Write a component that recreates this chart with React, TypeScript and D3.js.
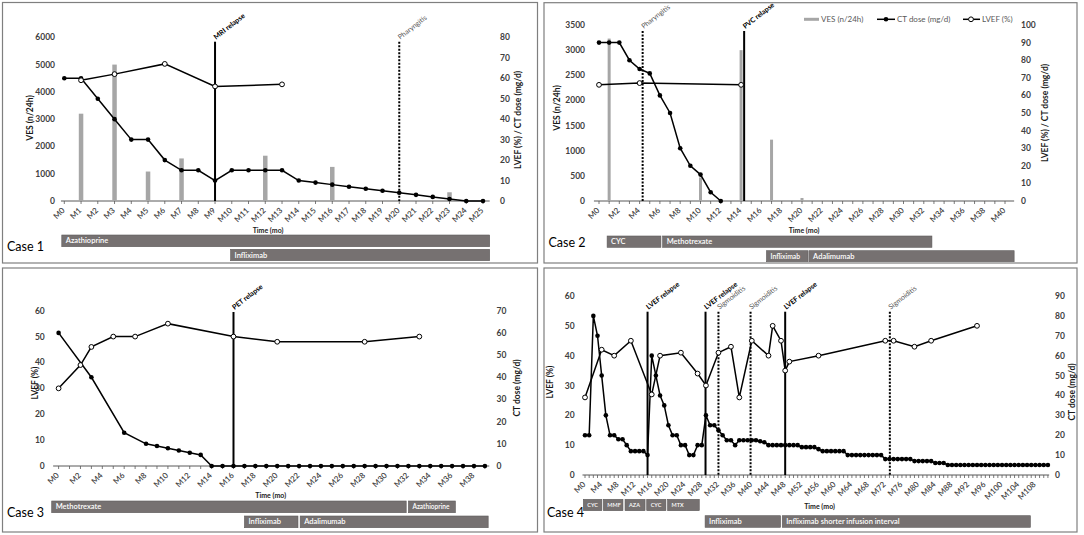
import * as d3 from 'd3';

const FONT = 'Lato, "Open Sans", sans-serif';

// ---------- Case 1 ----------
const case1Ticks = [0, 1, 2, 3, 4, 5, 6, 7, 8, 9, 10, 11, 12, 13, 14, 15, 16, 17, 18, 19, 20, 21, 22, 23, 24, 25];
const case1CtMonths = [0, 1, 2, 3, 4, 5, 6, 7, 8, 9, 10, 11, 12, 13, 14, 15, 16, 17, 18, 19, 20, 21, 22, 23, 24, 25];
const case1CtDose = [60, 60, 50, 40, 30, 30, 20, 15, 15, 10, 15, 15, 15, 15, 10, 9, 8, 7, 6, 5, 4, 3, 2, 1, 0, 0];
const case1LvefMonths = [1, 3, 6, 9, 13];
const case1Lvef = [59, 62, 67, 56, 57];
const case1VesMonths = [1, 3, 5, 7, 12, 16, 23];
const case1Ves = [3200, 5000, 1080, 1560, 1660, 1250, 320];
const case1Events = [
  { month: 9, label: 'MRI relapse', kind: 'relapse' },
  { month: 20, label: 'Pharyngitis', kind: 'infection' },
];
const case1Treatments = [
  { label: 'Azathioprine', start: -0.15, end: 25.4, row: 0 },
  { label: 'Infliximab', start: 9.93, end: 25.4, row: 1 },
];

// ---------- Case 2 ----------
const case2Ticks = [0, 2, 4, 6, 8, 10, 12, 14, 16, 18, 20, 22, 24, 26, 28, 30, 32, 34, 36, 38, 40];
const case2CtMonths = [0, 1, 2, 3, 4, 5, 6, 7, 8, 9, 10, 11, 12];
const case2CtDose = [90, 90, 90, 80, 75, 72.5, 60, 50, 30, 20, 15, 5, 0];
const case2LvefMonths = [0, 4, 14];
const case2Lvef = [66, 67, 66];
const case2VesMonths = [1, 10, 14, 17, 20];
const case2Ves = [3230, 470, 3000, 1220, 60];
const case2Events = [
  { month: 4.3, label: 'Pharyngitis', kind: 'infection' },
  { month: 14.3, label: 'PVC relapse', kind: 'relapse' },
];
const case2Treatments = [
  { label: 'CYC', start: 0.8, end: 6.1, row: 0 },
  { label: 'Methotrexate', start: 6.27, end: 32.8, row: 0 },
  { label: 'Infliximab', start: 16.5, end: 20.6, row: 1 },
  { label: 'Adalimumab', start: 20.7, end: 40.9, row: 1 },
];
const legendItems = ['VES (n/24h)', 'CT dose (mg/d)', 'LVEF (%)'];

// ---------- Case 3 ----------
const case3Ticks = [0, 2, 4, 6, 8, 10, 12, 14, 16, 18, 20, 22, 24, 26, 28, 30, 32, 34, 36, 38];
const case3CtMonths = [0, 3, 6, 8, 9, 10, 11, 12, 13, 14, 15, 16, 17, 18, 19, 20, 21, 22, 23, 24, 25, 26, 27, 28, 29, 30, 31, 32, 33, 34, 35, 36, 37, 38, 39];
const case3CtDose = [60, 40, 15, 10, 9, 8, 7, 6, 5, 0, 0, 0, 0, 0, 0, 0, 0, 0, 0, 0, 0, 0, 0, 0, 0, 0, 0, 0, 0, 0, 0, 0, 0, 0, 0];
const case3LvefMonths = [0, 2, 3, 5, 7, 10, 16, 20, 28, 33];
const case3Lvef = [30, 39, 46, 50, 50, 55, 50, 48, 48, 50];
const case3Events = [{ month: 16, label: 'PET relapse', kind: 'relapse' }];
const case3Treatments = [
  { label: 'Methotrexate', start: -0.63, end: 31.8, row: 0 },
  { label: 'Azathioprine', start: 32.0, end: 36.3, row: 0 },
  { label: 'Infliximab', start: 17.0, end: 21.9, row: 1 },
  { label: 'Adalimumab', start: 22.1, end: 39.3, row: 1 },
];

// ---------- Case 4 ----------
const case4Ticks = [0, 4, 8, 12, 16, 20, 24, 28, 32, 36, 40, 44, 48, 52, 56, 60, 64, 68, 72, 76, 80, 84, 88, 92, 96, 100, 104, 108];
// CT dose, one value per month from M0 to M111
const case4CtDose = [
  20, 20, 80, 70, 50, 30, 20, 20, 18, 18,
  15, 12, 12, 12, 12, 10, 60, 50, 40, 35,
  25, 20, 20, 15, 15, 10, 10, 15, 15, 30,
  25, 25, 22.5, 20, 17.5, 17.5, 15, 17.5, 17.5, 17.5,
  17.5, 17.5, 17, 16.5, 15, 15, 15, 15, 15, 15,
  15, 15, 14, 14, 14, 14, 13, 12, 12, 12,
  12, 12, 12, 10, 10, 10, 10, 10, 10, 10,
  10, 10, 8, 8, 8, 8, 8, 8, 8, 7,
  7, 7, 7, 7, 6, 6, 6, 5, 5, 5,
  5, 5, 5, 5, 5, 5, 5, 5, 5, 5,
  5, 5, 5, 5, 5, 5, 5, 5, 5, 5,
  5, 5,
];
const case4CtMonths = case4CtDose.map((_, i) => i);
const case4LvefMonths = [0, 4, 7, 11, 16, 18, 23, 27, 29, 32, 35, 37, 40, 44, 45, 47, 48, 49, 56, 72, 74, 79, 83, 94];
const case4Lvef = [26, 42, 40, 45, 27, 40, 41, 34, 30, 41, 43, 26, 45, 40, 50, 45, 35, 38, 40, 45, 45, 43, 45, 50];
const case4Events = [
  { month: 15, label: 'LVEF relapse', kind: 'relapse' },
  { month: 28.9, label: 'LVEF relapse', kind: 'relapse' },
  { month: 32, label: 'Sigmoiditis', kind: 'infection' },
  { month: 39.7, label: 'Sigmoiditis', kind: 'infection' },
  { month: 48, label: 'LVEF relapse', kind: 'relapse' },
  { month: 73.1, label: 'Sigmoiditis', kind: 'infection' },
];
const case4Treatments = [
  { label: 'CYC', start: -0.4, end: 4.05, row: 0 },
  { label: 'MMF', start: 4.4, end: 9.1, row: 0 },
  { label: 'AZA', start: 9.6, end: 14.4, row: 0 },
  { label: 'CYC', start: 14.8, end: 19.4, row: 0 },
  { label: 'MTX', start: 19.8, end: 27.4, row: 0 },
  { label: 'Infliximab', start: 28.8, end: 46.9, row: 1 },
  { label: 'Infliximab shorter infusion interval', start: 47.3, end: 106.8, row: 1 },
];

type Ev = { month: number; label: string; kind: string };
type Tx = { label: string; start: number; end: number; row: number };

interface PanelProps {
  box: [number, number, number, number];
  xDomain: [number, number];
  xRange: [number, number];
  axisExtent: [number, number];
  lastMonth: number;
  tickMonths: number[];
  yTop: number;
  yBottom: number;
  leftMax: number;
  leftCount: number;
  leftTitle: string;
  leftLabelX: number;
  leftTitleX: number;
  leftTitleY: number;
  rightMax: number;
  rightCount: number;
  rightTitle: string;
  rightLabelX: number;
  rightTitleX: number;
  rightTitleY: number;
  barMonths?: number[];
  barValues?: number[];
  barWidth?: number;
  ctMonths: number[];
  ctValues: number[];
  ctAxis: 'left' | 'right';
  lvefMonths: number[];
  lvefValues: number[];
  lvefAxis: 'left' | 'right';
  events: Ev[];
  eventTop: number;
  treatments: Tx[];
  rows: [number, number][];
  rowFont: number[];
  caseLabel: string;
  caseX: number;
  caseY: number;
  timeX: number;
  timeY: number;
  legend?: { x: number; y: number };
}

function Panel(p: PanelProps) {
  const x = d3.scaleLinear().domain(p.xDomain).range(p.xRange);
  const yL = d3.scaleLinear().domain([0, p.leftMax]).range([p.yBottom, p.yTop]);
  const yR = d3.scaleLinear().domain([0, p.rightMax]).range([p.yBottom, p.yTop]);
  const ctY = p.ctAxis === 'left' ? yL : yR;
  const lvY = p.lvefAxis === 'left' ? yL : yR;

  const ctPts = p.ctMonths.map((m, i) => [m, p.ctValues[i]] as [number, number]);
  const lvPts = p.lvefMonths.map((m, i) => [m, p.lvefValues[i]] as [number, number]);
  const ctLine = d3.line<[number, number]>().x(d => x(d[0])).y(d => ctY(d[1]));
  const lvLine = d3.line<[number, number]>().x(d => x(d[0])).y(d => lvY(d[1]));
  const monthTicks = d3.range(0, p.lastMonth + 1);

  const [bx0, by0, bx1, by1] = p.box;

  return (
    <g>
      <rect x={bx0} y={by0} width={bx1 - bx0} height={by1 - by0} fill="none" stroke="#7f7f7f" strokeWidth={1.2} />

      {/* x axis */}
      <line x1={x(p.axisExtent[0])} x2={x(p.axisExtent[1])} y1={p.yBottom} y2={p.yBottom} stroke="#595959" strokeWidth={1} />
      {monthTicks.map(m => (
        <line key={'t' + m} x1={x(m)} x2={x(m)} y1={p.yBottom} y2={p.yBottom + 3} stroke="#595959" strokeWidth={0.8} />
      ))}
      {p.tickMonths.map(m => (
        <g key={'l' + m} transform={`translate(${x(m) + 1},${p.yBottom + 10})`}>
          <text transform="rotate(-45)" textAnchor="end" fontSize={8} fontWeight={600} fill="#404040">{`M${m}`}</text>
        </g>
      ))}

      {/* y axes labels */}
      {yL.ticks(p.leftCount).map(v => (
        <text key={'yl' + v} x={p.leftLabelX} y={yL(v) + 3} textAnchor="end" fontSize={8.5} fontWeight={700} fill="#404040">{v}</text>
      ))}
      {yR.ticks(p.rightCount).map(v => (
        <text key={'yr' + v} x={p.rightLabelX} y={yR(v) + 3} textAnchor="start" fontSize={8.5} fontWeight={700} fill="#404040">{v}</text>
      ))}
      <text transform={`translate(${p.leftTitleX + 3},${p.leftTitleY}) rotate(-90)`} textAnchor="middle" fontSize={8.5} fontWeight={700} fill="#1a1a1a">{p.leftTitle}</text>
      <text transform={`translate(${p.rightTitleX + 3},${p.rightTitleY}) rotate(-90)`} textAnchor="middle" fontSize={8.5} fontWeight={700} fill="#1a1a1a">{p.rightTitle}</text>

      {/* VES bars */}
      {p.barMonths && p.barValues && p.barMonths.map((m, i) => (
        <rect key={'b' + i} x={x(m) - (p.barWidth ?? 4) / 2} y={yL(p.barValues![i])} width={p.barWidth ?? 4}
          height={p.yBottom - yL(p.barValues![i])} fill="#a6a6a6" />
      ))}

      {/* events */}
      {p.events.map((e, i) => (
        <g key={'e' + i}>
          <line x1={x(e.month)} x2={x(e.month)} y1={p.eventTop} y2={p.yBottom} stroke="#000"
            strokeWidth={2} strokeDasharray={e.kind === 'relapse' ? undefined : '2,1.5'} />
          <g transform={`translate(${x(e.month) + 1},${p.eventTop - 2})`}>
            <text transform="rotate(-38)" fontSize={7}
              fontWeight={e.kind === 'relapse' ? 700 : 400} fill={e.kind === 'relapse' ? '#000' : '#595959'}>{e.label}</text>
          </g>
        </g>
      ))}

      {/* series */}
      <path d={lvLine(lvPts) ?? ''} fill="none" stroke="#000" strokeWidth={1.5} />
      <path d={ctLine(ctPts) ?? ''} fill="none" stroke="#000" strokeWidth={1.5} />
      {ctPts.map((d, i) => (
        <circle key={'c' + i} cx={x(d[0])} cy={ctY(d[1])} r={2.3} fill="#000" />
      ))}
      {lvPts.map((d, i) => (
        <circle key={'v' + i} cx={x(d[0])} cy={lvY(d[1])} r={2.4} fill="#fff" stroke="#000" strokeWidth={1} />
      ))}

      {/* time title, case label */}
      <text x={p.timeX} y={p.timeY} textAnchor="middle" fontSize={7} fontWeight={700} fill="#1a1a1a">Time (mo)</text>
      <text x={p.caseX} y={p.caseY} fontSize={12.5} fill="#000">{p.caseLabel}</text>

      {/* treatments */}
      {p.treatments.map((t, i) => {
        const [r0, r1] = p.rows[t.row];
        const x0 = x(t.start);
        const w = x(t.end) - x0;
        const fs = Math.min(p.rowFont[t.row], (w - 6) / (t.label.length * 0.52));
        return (
          <g key={'tx' + i}>
            <rect x={x0} y={r0} width={w} height={r1 - r0} fill="#767171" stroke="#5e5a5a" strokeWidth={0.6} />
            <text x={x0 + 4} y={(r0 + r1) / 2 + fs * 0.35} fontSize={fs} fontWeight={600} fill="#fff">{t.label}</text>
          </g>
        );
      })}

      {/* legend */}
      {p.legend && (
        <g transform={`translate(${p.legend.x},${p.legend.y})`} fontSize={8} fill="#595959">
          <rect x={0} y={-1.5} width={15} height={3} fill="#a6a6a6" />
          <text x={17} y={2.8}>{legendItems[0]}</text>
          <line x1={73} x2={91} y1={0} y2={0} stroke="#000" strokeWidth={1.5} />
          <circle cx={82} cy={0} r={2.3} fill="#000" />
          <text x={93} y={2.8}>{legendItems[1]}</text>
          <line x1={159} x2={176} y1={0} y2={0} stroke="#000" strokeWidth={1.5} />
          <circle cx={167} cy={0} r={2.4} fill="#fff" stroke="#000" strokeWidth={1} />
          <text x={178} y={2.8}>{legendItems[2]}</text>
        </g>
      )}
    </g>
  );
}

export default function App() {
  return (
    <svg width={1084} height={535} fontFamily={FONT}
      style={{ position: 'absolute', left: 0, top: 0, background: '#fff' }}>
      <rect width={1084} height={535} fill="#fff" />
      <Panel
        box={[2.5, 2.5, 537.5, 263]} xDomain={[0, 25]} xRange={[64.3, 483]} axisExtent={[-0.2, 25.4]}
        lastMonth={25} tickMonths={case1Ticks} yTop={37.3} yBottom={201}
        leftMax={6000} leftCount={6} leftTitle="VES (n/24h)" leftLabelX={55} leftTitleX={30} leftTitleY={118}
        rightMax={80} rightCount={8} rightTitle="LVEF (%) / CT dose (mg/d)" rightLabelX={500} rightTitleX={518} rightTitleY={120}
        barMonths={case1VesMonths} barValues={case1Ves} barWidth={4.5}
        ctMonths={case1CtMonths} ctValues={case1CtDose} ctAxis="right"
        lvefMonths={case1LvefMonths} lvefValues={case1Lvef} lvefAxis="right"
        events={case1Events} eventTop={41.7}
        treatments={case1Treatments} rows={[[235, 246.7], [249.3, 260.7]]} rowFont={[7.5, 7.5]}
        caseLabel="Case 1" caseX={7} caseY={250.5} timeX={268} timeY={232.5}
      />
      <Panel
        box={[544, 2.7, 1077, 263]} xDomain={[0, 40]} xRange={[599, 1005]} axisExtent={[-0.5, 40.9]}
        lastMonth={40} tickMonths={case2Ticks} yTop={25} yBottom={201}
        leftMax={3500} leftCount={7} leftTitle="VES (n/24h)" leftLabelX={585} leftTitleX={557} leftTitleY={108}
        rightMax={100} rightCount={10} rightTitle="LVEF (%) / CT dose (mg/d)" rightLabelX={1021} rightTitleX={1045} rightTitleY={113}
        barMonths={case2VesMonths} barValues={case2Ves} barWidth={3}
        ctMonths={case2CtMonths} ctValues={case2CtDose} ctAxis="right"
        lvefMonths={case2LvefMonths} lvefValues={case2Lvef} lvefAxis="right"
        events={case2Events} eventTop={31}
        treatments={case2Treatments} rows={[[236, 247.3], [250.7, 261.7]]} rowFont={[7.5, 7.5]}
        caseLabel="Case 2" caseX={548.5} caseY={247} timeX={804} timeY={232.5}
        legend={{ x: 804, y: 19.3 }}
      />
      <Panel
        box={[2.5, 268, 537.5, 532]} xDomain={[0, 39]} xRange={[58.6, 484.9]} axisExtent={[-0.5, 39.4]}
        lastMonth={39} tickMonths={case3Ticks} yTop={310.7} yBottom={466}
        leftMax={60} leftCount={6} leftTitle="LVEF (%)" leftLabelX={44.8} leftTitleX={34.5} leftTitleY={383}
        rightMax={70} rightCount={7} rightTitle="CT dose (mg/d)" rightLabelX={496.6} rightTitleX={517} rightTitleY={388}
        ctMonths={case3CtMonths} ctValues={case3CtDose} ctAxis="right"
        lvefMonths={case3LvefMonths} lvefValues={case3Lvef} lvefAxis="left"
        events={case3Events} eventTop={312}
        treatments={case3Treatments} rows={[[501, 512.7], [516, 527.7]]} rowFont={[7.5, 7.5]}
        caseLabel="Case 3" caseX={7} caseY={517} timeX={270.7} timeY={497.5}
      />
      <Panel
        box={[544, 268, 1077, 532]} xDomain={[0, 108]} xRange={[585, 1035.4]} axisExtent={[-0.6, 111.3]}
        lastMonth={111} tickMonths={case4Ticks} yTop={296} yBottom={475}
        leftMax={60} leftCount={6} leftTitle="LVEF (%)" leftLabelX={574.7} leftTitleX={550} leftTitleY={382}
        rightMax={90} rightCount={9} rightTitle="CT dose (mg/d)" rightLabelX={1055} rightTitleX={1071.5} rightTitleY={392}
        ctMonths={case4CtMonths} ctValues={case4CtDose} ctAxis="right"
        lvefMonths={case4LvefMonths} lvefValues={case4Lvef} lvefAxis="left"
        events={case4Events} eventTop={311.7}
        treatments={case4Treatments} rows={[[499.3, 510.7], [515.7, 527.3]]} rowFont={[5.5, 7.5]}
        caseLabel="Case 4" caseX={547} caseY={517} timeX={819.5} timeY={509}
      />
    </svg>
  );
}
